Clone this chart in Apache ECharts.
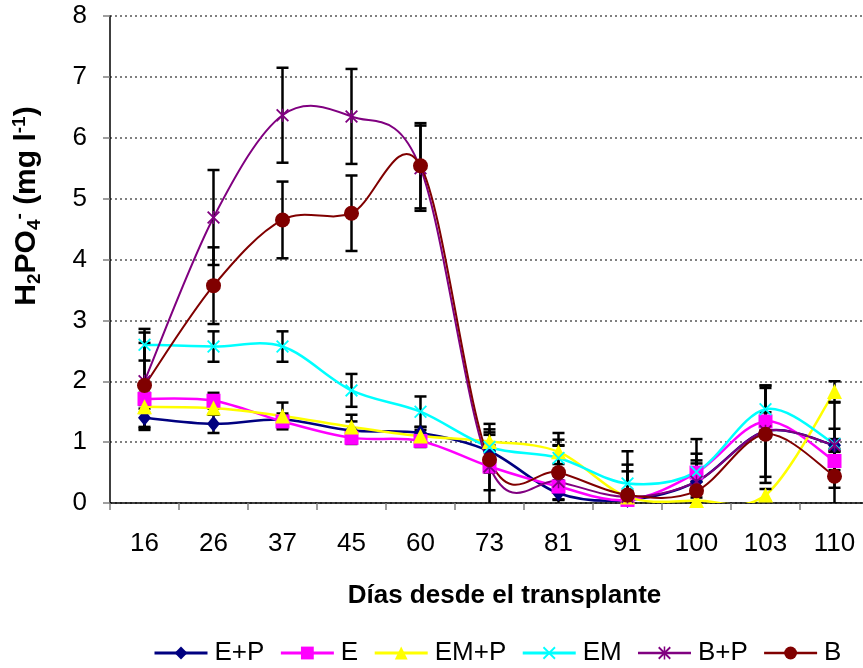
<!DOCTYPE html>
<html>
<head>
<meta charset="utf-8">
<script src="https://cdn.jsdelivr.net/npm/echarts@6/dist/echarts.min.js"></script>
<style>
  html, body { margin: 0; padding: 0; background: #fff; }
  #chart { width: 863px; height: 668px; }
</style>
</head>
<body>
<div id="chart"></div>
<script>
// Days after transplant
const days = ['16', '26', '37', '45', '60', '73', '81', '91', '100', '103', '110'];

// Mean H2PO4- concentration (mg/l) per treatment
const valEP  = [1.40, 1.30, 1.37, 1.19, 1.15, 0.85, 0.16, 0.05, 0.35, 1.18, 0.95];
const valE   = [1.71, 1.68, 1.34, 1.07, 1.02, 0.60, 0.27, 0.05, 0.50, 1.34, 0.69];
const valEMP = [1.58, 1.56, 1.43, 1.25, 1.10, 1.01, 0.84, 0.10, 0.04, 0.13, 1.83];
const valEM  = [2.60, 2.57, 2.57, 1.85, 1.50, 0.92, 0.74, 0.32, 0.51, 1.54, 0.97];
const valBP  = [2.00, 4.69, 6.37, 6.35, 5.50, 0.60, 0.35, 0.10, 0.35, 1.18, 0.95];
const valB   = [1.93, 3.57, 4.65, 4.76, 5.54, 0.71, 0.50, 0.13, 0.20, 1.13, 0.44];

// Standard error (half-width of the error bars)
const errEP  = [0.15, 0.15, 0.10, 0.15, 0.10, 0.10, 0.10, 0.05, 0.10, 0.10, 0.10];
const errE   = [0.10, 0.13, 0.10, 0.10, 0.10, 0.10, 0.10, 0.05, 0.15, 0.15, 0.15];
const errEMP = [0.10, 0.10, 0.22, 0.20, 0.10, 0.15, 0.20, 0.10, 0.05, 0.10, 0.17];
const errEM  = [0.26, 0.25, 0.25, 0.27, 0.25, 0.20, 0.20, 0.20, 0.30, 0.35, 0.25];
const errBP  = [0.80, 0.78, 0.78, 0.78, 0.70, 0.70, 0.80, 0.75, 0.70, 0.75, 0.70];
const errB   = [0.70, 0.63, 0.63, 0.62, 0.70, 0.50, 0.45, 0.50, 0.50, 0.80, 0.45];

const yTicks = [0, 1, 2, 3, 4, 5, 6, 7, 8];

const FONT = 'Liberation Sans, Arial, sans-serif';

// Marker shapes drawn as filled outlines
const crossPath = 'path://M0,1L1,0L10,9L9,10Z M9,0L10,1L1,10L0,9Z';
const starPath = 'path://M0,1L1,0L10,9L9,10Z M9,0L10,1L1,10L0,9Z M4.4,0L5.6,0L5.6,10L4.4,10Z';

const treatments = [
  { name: 'E+P',  values: valEP,  errors: errEP,  color: '#000080', symbol: 'diamond',  size: [13, 16], width: 2.5 },
  { name: 'E',    values: valE,   errors: errE,   color: '#FF00FF', symbol: 'rect',     size: 14, width: 2.5 },
  { name: 'EM+P', values: valEMP, errors: errEMP, color: '#FFFF00', symbol: 'triangle', size: 15, width: 2.5 },
  { name: 'EM',   values: valEM,  errors: errEM,  color: '#00FFFF', symbol: crossPath,  size: 13, width: 2.5 },
  { name: 'B+P',  values: valBP,  errors: errBP,  color: '#800080', symbol: starPath,   size: 13, width: 2 },
  { name: 'B',    values: valB,   errors: errB,   color: '#800000', symbol: 'circle',   size: 15, width: 2 }
];

// Vertical error bar with caps at mean +/- error
function errorBarRender(params, api) {
  const x = api.value(0);
  const lo = api.coord([x, api.value(1) - api.value(2)]);
  const hi = api.coord([x, api.value(1) + api.value(2)]);
  const cap = 6;
  const style = { stroke: '#000', lineWidth: 2.5, fill: null };
  return {
    type: 'group',
    children: [
      { type: 'line', shape: { x1: hi[0], y1: hi[1], x2: lo[0], y2: lo[1] }, style: style },
      { type: 'line', shape: { x1: hi[0] - cap, y1: hi[1], x2: hi[0] + cap, y2: hi[1] }, style: style },
      { type: 'line', shape: { x1: lo[0] - cap, y1: lo[1], x2: lo[0] + cap, y2: lo[1] }, style: style }
    ]
  };
}

// Smoothed connecting line: Catmull-Rom segment from point i to point i+1
function curveRender(values, color, width) {
  return function (params, api) {
    const i = params.dataIndex;
    const n = values.length;
    if (i >= n - 1) return { type: 'group', children: [] };
    const pt = function (j) {
      const k = Math.max(0, Math.min(n - 1, j));
      return api.coord([k, values[k]]);
    };
    const p0 = pt(i - 1), p1 = pt(i), p2 = pt(i + 1), p3 = pt(i + 2);
    return {
      type: 'bezierCurve',
      shape: {
        x1: p1[0], y1: p1[1],
        cpx1: p1[0] + (p2[0] - p0[0]) / 6, cpy1: p1[1] + (p2[1] - p0[1]) / 6,
        cpx2: p2[0] - (p3[0] - p1[0]) / 6, cpy2: p2[1] - (p3[1] - p1[1]) / 6,
        x2: p2[0], y2: p2[1]
      },
      style: { stroke: color, lineWidth: width, fill: null, lineCap: 'round' }
    };
  };
}

const series = [];
treatments.forEach(function (t) {
  series.push({
    name: t.name + ' curve',
    type: 'custom',
    renderItem: curveRender(t.values, t.color, t.width),
    data: t.values.map(function (v, i) { return [i, v]; }),
    encode: { x: 0, y: 1 },
    clip: true,
    silent: true,
    z: 2
  });
  series.push({
    name: t.name + ' err',
    type: 'custom',
    renderItem: errorBarRender,
    data: t.values.map(function (v, i) { return [i, v, t.errors[i]]; }),
    encode: { x: 0, y: 1 },
    clip: true,
    silent: true,
    z: 2
  });
  series.push({
    name: t.name,
    type: 'line',
    data: t.values,
    symbol: t.symbol,
    symbolSize: t.size,
    showAllSymbol: true,
    lineStyle: { color: t.color, width: t.width, opacity: 0 },
    itemStyle: { color: t.color, borderWidth: 0 },
    emphasis: { disabled: true },
    z: 2
  });
});

const chart = echarts.init(document.getElementById('chart'));
chart.setOption({
  animation: false,
  backgroundColor: '#ffffff',
  textStyle: { fontFamily: FONT },
  grid: { left: 110, top: 16, width: 759, height: 487, containLabel: false, outerBoundsMode: 'none' },
  legend: {
    data: treatments.map(function (t) {
      return { name: t.name, lineStyle: { color: t.color, width: t.width + 0.5, opacity: 1, type: 'solid' } };
    }),
    top: 635,
    left: 148,
    itemWidth: 53,
    itemHeight: 16,
    itemGap: 15,
    textStyle: { fontSize: 26, color: '#000', fontFamily: FONT, padding: [0, 0, 0, 2] }
  },
  xAxis: {
    type: 'category',
    data: days,
    boundaryGap: true,
    name: 'Días desde el transplante',
    nameLocation: 'middle',
    nameGap: 80,
    nameTextStyle: { fontSize: 26, fontWeight: 'bold', color: '#000', fontFamily: FONT, padding: [0, 0, 0, 30] },
    axisLine: { lineStyle: { color: '#000', width: 1.5 } },
    axisTick: { show: true, length: 7, lineStyle: { color: '#808080', width: 1.5 } },
    axisLabel: { fontSize: 26, color: '#000', margin: 28 },
    splitLine: { show: false }
  },
  yAxis: {
    type: 'value',
    min: yTicks[0],
    max: yTicks[yTicks.length - 1],
    interval: 1,
    name: '{b|H}{s|2}{b|PO}{s|4}{p|-}{b| (mg l}{p|-1}{b|)}',
    nameLocation: 'middle',
    nameGap: 66,
    nameRotate: 90,
    nameTextStyle: {
      padding: [0, 0, 0, 107],
      rich: {
        b: { fontSize: 30, fontWeight: 'bold', color: '#000', fontFamily: FONT },
        s: { fontSize: 19, fontWeight: 'bold', color: '#000', fontFamily: FONT, verticalAlign: 'bottom', padding: [15, 0, 0, 0] },
        p: { fontSize: 19, fontWeight: 'bold', color: '#000', fontFamily: FONT, verticalAlign: 'top', padding: [0, 0, 15, 0] }
      }
    },
    axisLine: { show: true, lineStyle: { color: '#000', width: 1.5 } },
    axisTick: { show: true, length: 7, lineStyle: { color: '#808080', width: 1.5 } },
    axisLabel: { fontSize: 26, color: '#000', margin: 23 },
    splitLine: { show: true, lineStyle: { color: '#808080', type: [2, 3], width: 2 } }
  },
  series: series
});
</script>
</body>
</html>
